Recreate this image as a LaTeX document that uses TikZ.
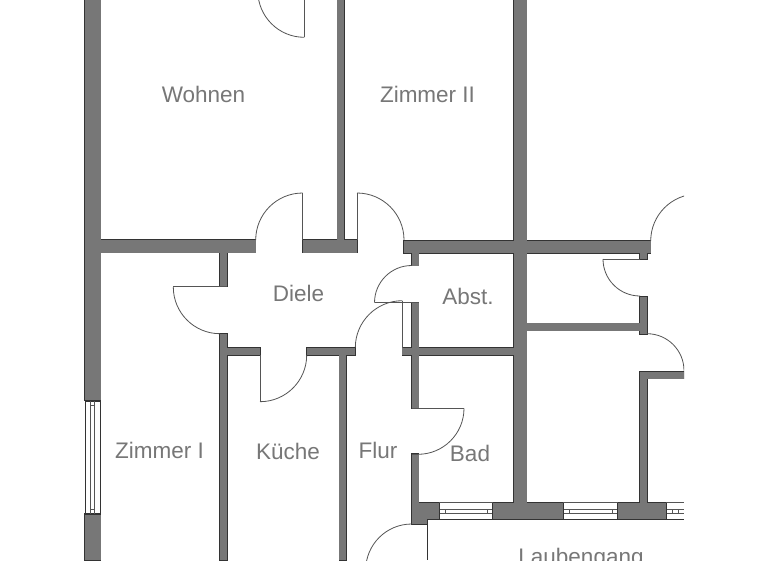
\documentclass[tikz,border=0pt]{standalone}
\usepackage{fontspec}
\setmainfont{Liberation Sans}
\usetikzlibrary{calc}
\definecolor{wallgray}{HTML}{777777}
\definecolor{walledge}{HTML}{333333}
\definecolor{labelgray}{HTML}{777777}
\definecolor{doorline}{HTML}{555555}
\tikzset{
  x=1pt,y=1pt,
  roomlabel/.style={text=labelgray,font=\fontsize{22.5}{24}\selectfont,inner sep=0pt,anchor=center},
  doorstroke/.style={draw=doorline,line width=0.8pt,fill=none},
  winedge/.style={draw=walledge,line width=0.7pt},
  winthin/.style={draw=doorline,line width=0.6pt}
}
\newcommand{\walllist}{%
  85/0/100.7/400, 85/514/100.7/560,
  100/240/255.7/252.7, 302.7/240/357/252.7, 404/240.5/514/253, 526/240.5/650.7/253,
  337.3/0/344/240,
  514/0/526.7/505,
  220/252/227.3/286.7, 220/334/227.3/560,
  227/347.7/260/355, 306.7/347.7/355.3/355,
  339.3/355/346/560,
  411.7/252.7/418.7/265.7, 411.7/302.7/418.7/408.3, 411.7/454/418.7/505,
  402.3/348/514/355,
  640/252.7/647.3/259, 640/296.7/647.3/334, 526.7/323.3/640/330.7,
  640/371.7/647/505, 640/371.7/684/378.7,
  411.7/502.7/439.3/519, 411.7/502.7/427.7/524,
  492.7/502.7/563.3/519, 617.5/502.7/666.3/519}
\newcommand{\doorarc}[5]{\draw[doorstroke] ([shift={(#4:#3pt)}]#1,-#2) arc[start angle=#4,end angle=#5,radius=#3pt];}
\newcommand{\hwindow}[2]{%
  \fill[white] (#1,-502.7) rectangle (#2,-519);
  \draw[winthin] (#1,-502.7) -- (#2,-502.7);
  \draw[winedge] (#1,-519) -- (#2,-519);
  \draw[winthin] (#1,-509.3) -- (#2,-509.3) (#1,-513.3) -- (#2,-513.3);
  \draw[winthin] ($(#1,-509.3)+(5.5,0)$) -- ++(0,-4) ($(#2,-509.3)+(-5.5,0)$) -- ++(0,-4);
}
\begin{document}
\begin{tikzpicture}
\useasboundingbox (0,-560) rectangle (768,0);
\fill[white] (0,-560) rectangle (768,0);
\begin{scope}
\clip (0,-560) rectangle (684,0);
% walls: edge pass then fill pass so junctions merge
\foreach \a/\b/\c/\d in \walllist {\draw[walledge,line width=1.2pt] (\a,-\b) rectangle (\c,-\d);}
\foreach \a/\b/\c/\d in \walllist {\fill[wallgray] (\a,-\b) rectangle (\c,-\d);}
% windows
\draw[winedge] (85,-401) rectangle (100.7,-514);
\draw[winthin] (90,-401) -- (90,-514) (94.3,-401) -- (94.3,-514);
\draw[winthin] (90,-405.7) -- (94.3,-405.7) (90,-509.3) -- (94.3,-509.3);
\hwindow{439.3}{492.7}
\hwindow{563.3}{617.5}
\hwindow{666.3}{684}
\draw[winedge] (439.3,-502.7) -- (439.3,-519) (492.7,-502.7) -- (492.7,-519) (563.3,-502.7) -- (563.3,-519) (617.5,-502.7) -- (617.5,-519) (666.3,-502.7) -- (666.3,-519);
% gallery line
\draw[winedge] (427.7,-519) -- (427.7,-560);
% doors
\doorarc{304.3}{-9.2}{46.5}{180}{270}
\draw[doorstroke] (304.3,0) -- (304.3,-37.3);
\doorarc{302.7}{240}{47}{90}{180}
\draw[doorstroke] (302.7,-193) -- (302.7,-240);
\doorarc{357}{240}{47}{0}{90}
\draw[doorstroke] (357,-193) -- (357,-240);
\doorarc{220}{287}{46.7}{180}{270}
\draw[doorstroke] (173.3,-286.7) -- (227.3,-286.7);
\doorarc{260}{355}{46.7}{270}{360}
\draw[doorstroke] (260,-355) -- (260,-401.7);
\doorarc{402.3}{347.7}{47}{90}{180}
\draw[doorstroke] (402.3,-301) -- (402.3,-348);
\doorarc{411.7}{302.7}{37.2}{90}{180}
\draw[doorstroke] (374.5,-302.7) -- (418.7,-302.7);
\doorarc{418}{408.3}{46}{270}{360}
\draw[doorstroke] (411.7,-408.3) -- (464,-408.3) (411.7,-454.3) -- (418,-454.3);
\doorarc{640}{259}{37}{180}{270}
\draw[doorstroke] (603,-259) -- (640,-259);
\doorarc{647}{370.7}{37}{0}{90}
\doorarc{697.7}{241}{47}{90}{180}
\doorarc{411.7}{570}{46}{90}{180}
% labels
\node[roomlabel] (wohnen) at (203.5,-94.3) {Wohnen};
\node[roomlabel] (zimmerii) at (427.5,-94.3) {Zimmer II};
\node[roomlabel] (diele) at (298.5,-293.3) {Diele};
\node[roomlabel] (abst) at (468,-296.3) {Abst.};
\node[roomlabel] (zimmeri) at (159.5,-450.3) {Zimmer I};
\node[roomlabel] (kueche) at (288,-451.3) {Küche};
\node[roomlabel] (flur) at (378,-450.3) {Flur};
\node[roomlabel] (bad) at (470,-453.3) {Bad};
\node[roomlabel,anchor=base] (laubengang) at (581,-564) {Laubengang};
\end{scope}
\end{tikzpicture}
\end{document}
